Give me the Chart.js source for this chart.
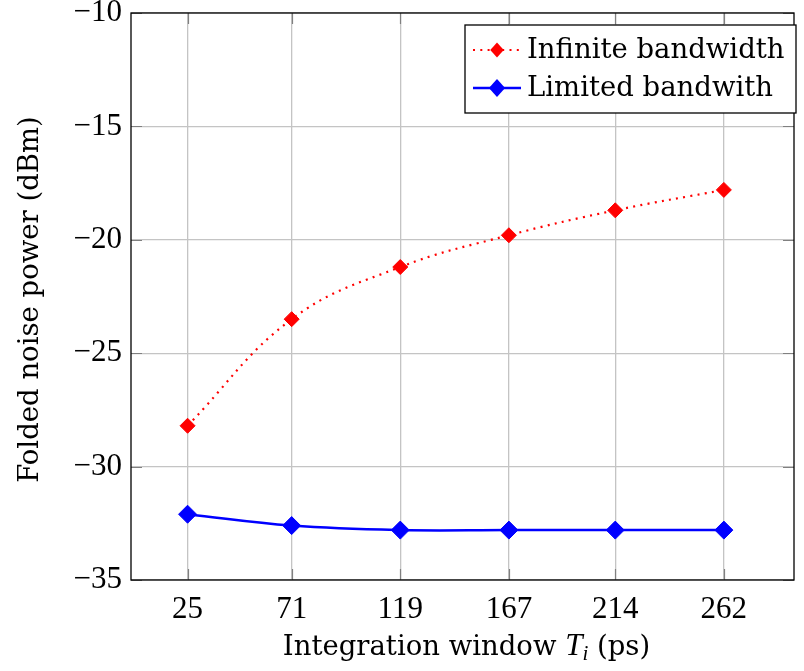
<!DOCTYPE html>
<html>
<head>
<meta charset="utf-8">
<script src="https://cdn.jsdelivr.net/npm/chart.js@4.4.1/dist/chart.umd.min.js"></script>
<style>
  html, body { margin: 0; padding: 0; background: #fff; overflow: hidden; }
  #wrap { width: 804px; height: 671px; position: relative; }
  #noise { display: block; }
</style>
</head>
<body>
<div id="wrap"><canvas id="noise"></canvas></div>
<script>
/* folded noise power vs integration window */

const windowPs = [25, 71, 119, 167, 214, 262];
const infiniteBw = [-28.2, -23.5, -21.2, -19.8, -18.7, -17.8];
const limitedBw = [-32.1, -32.6, -32.8, -32.8, -32.8, -32.8];
const xTicks = [25, 71, 119, 167, 214, 262];
const yTicks = [-35, -30, -25, -20, -15, -10];

const tickFont = { family: '"Liberation Serif", serif', size: 31 };
const labelFont = '27.5px "DejaVu Serif", serif';

// frame, inner tick marks, axis titles, legend
const framePlugin = {
  id: 'frame',
  afterDraw(chart) {
    const ctx = chart.ctx;
    const a = chart.chartArea;
    const xs = chart.scales.x, ys = chart.scales.y;
    ctx.save();
    // inner ticks
    ctx.strokeStyle = '#808080';
    ctx.lineWidth = 1.2;
    ctx.beginPath();
    xTicks.forEach(v => {
      const px = Math.round(xs.getPixelForValue(v)) + 0.5;
      ctx.moveTo(px, a.top); ctx.lineTo(px, a.top + 11);
      ctx.moveTo(px, a.bottom); ctx.lineTo(px, a.bottom - 11);
    });
    yTicks.forEach(v => {
      const py = Math.round(ys.getPixelForValue(v)) + 0.5;
      ctx.moveTo(a.left, py); ctx.lineTo(a.left + 11, py);
      ctx.moveTo(a.right, py); ctx.lineTo(a.right - 11, py);
    });
    ctx.stroke();
    // box
    ctx.strokeStyle = '#000';
    ctx.lineWidth = 1.3;
    ctx.strokeRect(a.left, a.top, a.right - a.left, a.bottom - a.top);

    // x title with italic T and subscript i
    ctx.fillStyle = '#000';
    ctx.textBaseline = 'alphabetic';
    ctx.textAlign = 'left';
    const parts = [
      { t: 'Integration window ', font: labelFont, dy: 0 },
      { t: 'T', font: 'italic 31px "Liberation Serif", serif', dy: 0 },
      { t: 'i', font: 'italic 21px "Liberation Serif", serif', dy: 5 },
      { t: ' (ps)', font: labelFont, dy: 0 }
    ];
    let total = 0;
    parts.forEach(p => { ctx.font = p.font; p.w = ctx.measureText(p.t).width; total += p.w; });
    let x0 = (a.left + a.right) / 2 - total / 2 + 4;
    const base = 655;
    parts.forEach(p => { ctx.font = p.font; ctx.fillText(p.t, x0, base + p.dy); x0 += p.w; });

    // y title
    ctx.save();
    ctx.translate(38, (a.top + a.bottom) / 2 + 3);
    ctx.rotate(-Math.PI / 2);
    ctx.textAlign = 'center';
    ctx.font = labelFont;
    ctx.fillText('Folded noise power (dBm)', 0, 0);
    ctx.restore();

    // legend
    const lx = 465, ly = 25, lw = 331, lh = 88;
    ctx.fillStyle = '#fff';
    ctx.fillRect(lx, ly, lw, lh);
    ctx.strokeStyle = '#000';
    ctx.lineWidth = 1.3;
    ctx.strokeRect(lx, ly, lw, lh);
    const items = chart.data.datasets;
    items.forEach((ds, i) => {
      const cy = ly + 25 + i * 38;
      ctx.strokeStyle = ds.borderColor;
      ctx.lineWidth = ds.borderWidth;
      ctx.setLineDash(ds.borderDash || []);
      ctx.beginPath();
      ctx.moveTo(lx + 8, cy); ctx.lineTo(lx + 56, cy);
      ctx.stroke();
      ctx.setLineDash([]);
      const r = ds.pointRadius;
      ctx.fillStyle = ds.pointBackgroundColor;
      ctx.beginPath();
      ctx.moveTo(lx + 32, cy - r); ctx.lineTo(lx + 32 + r * 0.9, cy);
      ctx.lineTo(lx + 32, cy + r); ctx.lineTo(lx + 32 - r * 0.9, cy);
      ctx.closePath();
      ctx.fill();
      ctx.fillStyle = '#000';
      ctx.font = labelFont;
      ctx.textAlign = 'left';
      ctx.textBaseline = 'middle';
      ctx.fillText(ds.label, lx + 62, cy + 1);
    });
    ctx.restore();
  }
};

const datanoise = {
  datasets: [{
    label: 'Infinite bandwidth',
    data: windowPs.map((x, i) => ({ x: x, y: infiniteBw[i] })),
    borderColor: '#ff0000',
    backgroundColor: '#ff0000',
    borderWidth: 2.2,
    borderDash: [2, 5.3],
    tension: 0.4,
    pointStyle: 'rectRot',
    pointRadius: 7.5,
    pointBackgroundColor: '#ff0000',
    pointBorderColor: '#ff0000',
    pointBorderWidth: 1
  }, {
    label: 'Limited bandwith',
    data: windowPs.map((x, i) => ({ x: x, y: limitedBw[i] })),
    borderColor: '#0000ff',
    backgroundColor: '#0000ff',
    borderWidth: 2.5,
    tension: 0.4,
    pointStyle: 'rectRot',
    pointRadius: 9,
    pointBackgroundColor: '#0000ff',
    pointBorderColor: '#0000ff',
    pointBorderWidth: 1
  }]
};

const confignoise = {
  type: 'line',
  data: datanoise,
  options: {
    responsive: true,
    maintainAspectRatio: false,
    animation: false,
    layout: { padding: { top: 13, right: 3, left: 0, bottom: 0 } },
    plugins: { legend: { display: false }, tooltip: { enabled: false } },
    scales: {
      x: {
        type: 'linear',
        min: 0,
        max: 293,
        afterBuildTicks: s => { s.ticks = xTicks.map(v => ({ value: v })); },
        afterFit: s => { s.height = 91; s.paddingLeft = 0; s.paddingRight = 0; },
        grid: { color: '#c4c4c4', lineWidth: 1.3, drawTicks: false },
        border: { display: false },
        ticks: { font: tickFont, color: '#000', padding: 11, maxRotation: 0, autoSkip: false,
          callback: v => String(v) }
      },
      y: {
        min: -35,
        max: -10,
        afterBuildTicks: s => { s.ticks = yTicks.map(v => ({ value: v })); },
        afterFit: s => { s.width = 131; s.paddingTop = 0; s.paddingBottom = 0; },
        grid: { color: '#c4c4c4', lineWidth: 1.3, drawTicks: false },
        border: { display: false },
        ticks: { font: tickFont, color: '#000', padding: 9,
          callback: v => String(v).replace('-', '\u2212') }
      }
    }
  },
  plugins: [framePlugin]
};

const chartnoise = new Chart(document.getElementById('noise'), confignoise);
</script>
</body>
</html>
